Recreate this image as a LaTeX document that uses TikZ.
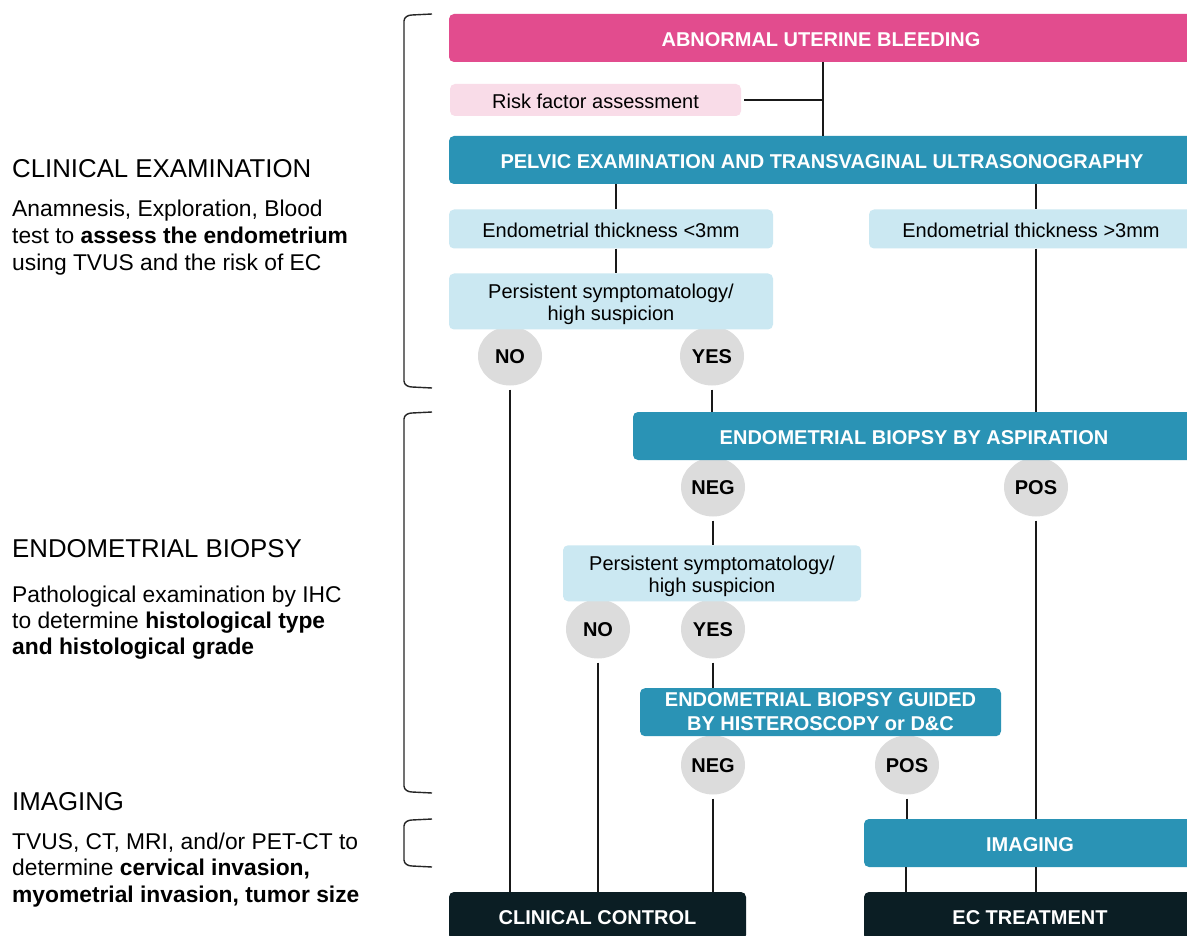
\documentclass[tikz,border=0pt]{standalone}
\usepackage{fontspec}
\setmainfont{Liberation Sans}
\usetikzlibrary{shapes.geometric}
\definecolor{aubpink}{HTML}{E24C8E}
\definecolor{riskpink}{HTML}{F9DCE8}
\definecolor{tealbox}{HTML}{2A93B5}
\definecolor{lightblue}{HTML}{CBE8F2}
\definecolor{circgray}{HTML}{DCDCDC}
\definecolor{darkbox}{HTML}{0B1E24}
\begin{document}
\begin{tikzpicture}[x=1pt,y=-1pt,
  box/.style={rectangle, rounded corners=5pt, inner sep=0pt, align=center},
  oneline/.style={text height=17pt, text depth=0pt},
  boldbox/.style={box, text=white, font=\bfseries\fontsize{20}{23.3}\selectfont},
  pinkbox/.style={boldbox, fill=aubpink, oneline},
  tealnode/.style={boldbox, fill=tealbox},
  darknode/.style={boldbox, fill=darkbox, oneline},
  lightnode/.style={box, fill=lightblue, text=black, font=\fontsize{20}{22.6}\selectfont},
  risknode/.style={box, fill=riskpink, text=black, font=\fontsize{20}{23}\selectfont, oneline},
  answer/.style={ellipse, fill=circgray, inner sep=0pt, minimum width=64pt, minimum height=59pt, text=black, font=\bfseries\fontsize{20}{22}\selectfont, text height=14.6pt, text depth=0pt},
  conn/.style={line width=2pt, black!90},
  fromcirc/.style={conn, shorten <=4pt},
  brk/.style={line width=1.4pt, black!85},
  heading/.style={anchor=north west, inner sep=0pt, font=\fontsize{25.8}{30}\selectfont},
  desc/.style={anchor=north west, inner sep=0pt, align=left, font=\fontsize{22.8}{#1}\selectfont}
]
\clip (0,0) rectangle (1187,936);
\fill[white] (0,0) rectangle (1187,936);

% left column
\node[heading] (h1) at (12,159.5) {CLINICAL EXAMINATION};
\node[desc=27.3] (d1) at (12,199.5) {Anamnesis, Exploration, Blood\\test to \textbf{assess the endometrium}\\using TVUS and the risk of EC};
\node[heading] (h2) at (12,539.5) {ENDOMETRIAL BIOPSY};
\node[desc=26.2] (d2) at (12,585.5) {Pathological examination by IHC\\to determine \textbf{histological type}\\\textbf{and histological grade}};
\node[heading] (h3) at (12,792) {IMAGING};
\node[desc=26.2] (d3) at (12,833) {TVUS, CT, MRI, and/or PET-CT to\\determine \textbf{cervical invasion,}\\\textbf{myometrial invasion, tumor size}};

% brackets
\draw[brk] (432,14) -- (412,15) to[out=180,in=90] (404,21) -- (404,381) to[out=-90,in=180] (412,387) -- (432,388);
\draw[brk] (432,412) -- (412,413) to[out=180,in=90] (404,419) -- (404,786) to[out=-90,in=180] (412,792) -- (432,793);
\draw[brk] (432,819) -- (412,820) to[out=180,in=90] (404,826) -- (404,860) to[out=-90,in=180] (412,866) -- (432,867);

% answer circles (drawn first)
\node[answer] (no1) at (510,356) {NO};
\node[answer] (yes1) at (712,356) {YES};
\node[answer] (neg1) at (713,487) {NEG};
\node[answer] (pos1) at (1036,487) {POS};
\node[answer] (no2) at (598,629) {NO};
\node[answer] (yes2) at (713,629) {YES};
\node[answer] (neg2) at (713,765) {NEG};
\node[answer] (pos2) at (907,765) {POS};

% boxes
\node[pinkbox, minimum width=744pt, minimum height=48pt] (aub) at (821,38) {ABNORMAL UTERINE BLEEDING};
\node[risknode, minimum width=291pt, minimum height=32pt] (risk) at (595.5,100) {Risk factor assessment};
\node[tealnode, oneline, minimum width=746pt, minimum height=48pt] (pelvic) at (822,160) {PELVIC EXAMINATION AND TRANSVAGINAL ULTRASONOGRAPHY};
\node[lightnode, oneline, minimum width=324pt, minimum height=39pt] (thin) at (611,229) {Endometrial thickness <3mm};
\node[lightnode, oneline, minimum width=324pt, minimum height=39pt] (thick) at (1031,229) {Endometrial thickness >3mm};
\node[lightnode, text height=38.4pt, text depth=0pt, minimum width=324pt, minimum height=56pt] (pers1) at (611,301.5) {Persistent symptomatology/\\high suspicion};
\node[tealnode, oneline, minimum width=562pt, minimum height=48pt] (asp) at (914,436) {ENDOMETRIAL BIOPSY BY ASPIRATION};
\node[lightnode, text height=38.6pt, text depth=0pt, minimum width=298pt, minimum height=56pt] (pers2) at (712,573.3) {Persistent symptomatology/\\high suspicion};
\node[tealnode, text height=35.6pt, text depth=0pt, minimum width=361pt, minimum height=48pt] (hyst) at (820.5,712.2) {ENDOMETRIAL BIOPSY GUIDED\\BY HISTEROSCOPY or D\&C};
\node[tealnode, oneline, minimum width=332pt, minimum height=48pt] (img) at (1030,843) {IMAGING};
\node[darknode, minimum width=297pt, minimum height=48pt] (cc) at (597.5,916) {CLINICAL CONTROL};
\node[darknode, minimum width=332pt, minimum height=48pt] (ect) at (1030,916) {EC TREATMENT};

% helper coordinates
\coordinate (j1) at (823,100);
\coordinate (xa) at (616,0);
\coordinate (xb) at (1036,0);
\coordinate (xc) at (906,0);

% connectors
\draw[conn] (risk.east) ++(3,0) -- (j1);
\draw[conn] (aub.south -| j1) -- (pelvic.north -| j1);
\draw[conn] (pelvic.south -| xa) -- (thin.north -| xa);
\draw[conn] (thin.south -| xa) -- (pers1.north -| xa);
\draw[conn] (pelvic.south -| xb) -- (thick.north -| xb);
\draw[conn] (thick.south -| xb) -- (asp.north -| xb);
\draw[fromcirc] (pos1.south) -- (img.north -| pos1);
\draw[fromcirc] (no1.south) -- (cc.north -| no1);
\draw[fromcirc] (yes1.south) -- (asp.north -| yes1);
\draw[fromcirc] (neg1.south) -- (pers2.north -| neg1);
\draw[fromcirc] (no2.south) -- (cc.north -| no2);
\draw[fromcirc] (yes2.south) -- (hyst.north -| yes2);
\draw[fromcirc] (neg2.south) -- (cc.north -| neg2);
\draw[fromcirc] (pos2.south) -- (img.north -| pos2);
\draw[conn] (img.south -| xc) -- (ect.north -| xc);
\draw[conn] (img.south -| xb) -- (ect.north -| xb);
\end{tikzpicture}
\end{document}
